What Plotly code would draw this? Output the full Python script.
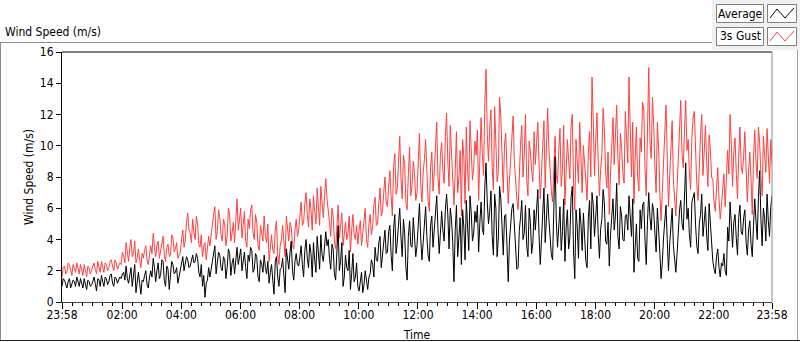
import plotly.graph_objects as go

# ---------------- data (samples on every 5 minutes from 23:58 to 23:58) ----------------
gust_3s = [
    1.6, 2.3, 1.9, 2.4, 1.7, 2.2, 2.5, 1.8, 2.1, 2.4, 1.6, 2.2,
    2.0, 2.5, 1.8, 2.3, 2.6, 1.9, 2.4, 2.2, 2.7, 2.0, 2.5, 2.3,
    2.4, 2.9, 3.8, 2.6, 4.0, 3.1, 2.5, 3.4, 2.2, 2.8, 3.6, 2.4,
    3.6, 4.4, 2.9, 3.9, 3.3, 4.2, 2.6, 3.7, 3.0, 4.1, 3.4, 2.8,
    3.2, 4.6, 3.9, 5.7, 4.4, 5.3, 4.0, 5.0, 3.5, 2.9, 3.8, 3.3,
    3.6, 4.9, 6.1, 4.5, 5.4, 3.9, 5.0, 4.2, 5.6, 4.4, 3.8, 6.6,
    5.2, 4.1, 5.8, 3.5, 4.7, 6.2, 4.0, 5.1, 3.3, 4.5, 5.5, 3.8,
    2.6, 4.3, 3.1, 5.2, 2.4, 4.0, 3.5, 5.5, 3.9, 4.8, 3.4, 5.3,
    4.6, 6.4, 5.1, 7.0, 4.8, 5.9, 6.8, 5.0, 6.1, 7.4, 5.4, 7.9,
    6.0, 4.2, 5.5, 3.4, 6.2, 4.8, 3.6, 5.1, 4.4, 3.2, 5.6, 4.0,
    3.7, 5.2, 4.3, 6.0, 3.5, 5.6, 4.8, 6.7, 5.0, 7.3, 5.8, 8.0,
    6.1, 8.4, 5.5, 9.5, 7.2, 10.6, 6.6, 8.8, 5.9, 9.9, 7.5, 8.2,
    7.0, 10.8, 6.4, 9.1, 7.8, 5.8, 9.6, 8.3, 11.5, 6.9, 10.2, 7.6,
    12.1, 7.4, 9.8, 6.2, 10.9, 8.0, 5.5, 9.3, 11.2, 7.1, 10.0, 8.6,
    9.4, 6.5, 11.8, 8.1, 14.9, 9.0, 12.3, 7.2, 10.5, 8.4, 11.9, 7.0,
    10.8, 6.3, 9.2, 11.9, 7.5, 5.9, 10.1, 8.0, 12.0, 6.8, 9.6, 7.7,
    8.8, 11.5, 6.6, 9.9, 7.3, 12.4, 8.2, 6.4, 10.6, 7.6, 11.1, 8.5,
    6.2, 10.4, 7.9, 12.0, 5.9, 9.3, 11.5, 7.0, 8.7, 6.5, 10.9, 14.4,
    8.1, 12.1, 6.8, 9.5, 11.0, 7.3, 5.6, 10.3, 8.8, 12.6, 7.5, 9.9,
    7.6, 10.8, 14.4, 8.0, 6.3, 11.2, 7.1, 9.6, 12.3, 6.8, 15.0, 9.2,
    11.4, 7.0, 9.9, 5.2, 8.5, 12.6, 6.1, 10.0, 7.8, 5.5, 9.2, 12.9,
    8.6, 12.9, 10.4, 7.2, 11.8, 9.0, 6.5, 10.7, 8.1, 11.3, 7.4, 9.8,
    7.8, 5.8, 8.6, 5.3, 7.0, 6.1, 9.7, 12.0, 7.4, 10.5, 6.6, 11.2,
    8.2, 10.9, 6.4, 9.6, 5.6, 11.0, 7.9, 10.2, 6.8, 9.4, 11.1, 7.6, 8.8,
]

average = [
    1.0, 1.4, 0.9, 1.5, 1.1, 1.3, 1.6, 1.0, 1.2, 1.5, 0.8, 1.3,
    1.1, 1.6, 0.7, 1.4, 1.7, 1.0, 1.5, 1.3, 1.8, 1.0, 1.5, 1.4,
    1.5, 1.9, 2.3, 1.2, 2.2, 1.6, 0.6, 1.9, 0.5, 1.3, 2.0, 0.9,
    2.0, 2.8, 1.3, 2.5, 1.7, 2.6, 1.0, 2.1, 1.5, 2.4, 1.9, 1.2,
    2.1, 2.9, 2.5, 2.7, 2.3, 3.0, 2.6, 2.8, 1.6, 1.0, 0.3, 1.4,
    1.6, 2.6, 3.6, 2.4, 3.0, 2.0, 2.7, 2.2, 3.1, 2.5, 1.8, 3.5,
    2.8, 2.0, 3.2, 1.5, 2.6, 3.3, 2.1, 2.9, 1.3, 2.4, 3.0, 1.8,
    1.2, 2.4, 0.5, 2.9, 1.0, 2.2, 1.7, 3.4, 2.1, 3.9, 1.4, 3.1,
    2.3, 3.6, 1.6, 4.0, 2.2, 3.1, 3.8, 1.9, 3.3, 4.3, 2.6, 4.5,
    4.0, 2.1, 3.4, 1.4, 4.9, 2.6, 1.0, 3.0, 2.0, 0.8, 3.1, 1.6,
    1.0, 1.4, 0.6, 2.0, 0.8, 1.8, 2.4, 3.5, 2.6, 4.2, 3.0, 4.6,
    3.2, 4.9, 2.0, 5.6, 3.8, 6.0, 2.9, 4.4, 1.4, 5.2, 3.5, 4.1,
    3.6, 6.3, 2.7, 5.0, 4.2, 2.6, 5.5, 4.6, 6.8, 3.1, 5.8, 3.9,
    6.9, 3.4, 5.3, 1.3, 6.2, 4.0, 2.4, 4.8, 6.5, 3.3, 5.7, 4.4,
    5.1, 3.2, 6.4, 4.3, 8.9, 5.0, 7.1, 3.0, 6.0, 4.1, 6.6, 3.0,
    5.6, 1.3, 4.8, 6.3, 3.5, 2.2, 5.4, 4.0, 6.2, 2.9, 5.1, 3.8,
    4.6, 7.2, 2.4, 5.7, 3.8, 6.9, 4.2, 2.7, 9.3, 3.5, 6.1, 4.5,
    2.6, 5.9, 4.1, 7.4, 1.5, 4.8, 6.0, 3.3, 4.4, 2.2, 6.5, 7.0,
    4.2, 6.8, 2.8, 5.3, 6.3, 3.7, 2.3, 5.9, 4.6, 7.6, 3.4, 5.5,
    3.9, 5.6, 6.8, 4.2, 1.9, 5.0, 2.6, 4.7, 6.4, 2.4, 7.0, 4.6,
    5.8, 3.2, 4.9, 1.5, 4.1, 6.2, 2.0, 5.3, 3.6, 1.9, 4.8, 6.5,
    4.6, 8.9, 6.0, 3.5, 6.8, 4.9, 3.1, 5.6, 4.2, 6.1, 3.3, 5.0,
    2.6, 1.8, 3.4, 1.6, 2.3, 2.0, 4.8, 6.4, 3.5, 5.6, 3.0, 6.2,
    4.3, 5.9, 3.0, 5.2, 2.9, 6.6, 4.0, 8.4, 3.6, 5.4, 6.9, 4.2, 6.8,
]

# samples half-way between the 5-minute samples (at 2.5, 7.5, ... minutes)
gust_3s_mid = [
    2.2, 1.8, 2.5, 2.0, 2.4, 1.9, 2.1, 2.4, 1.7, 2.0, 2.3, 1.8,
    2.3, 2.1, 2.6, 1.9, 2.2, 2.5, 2.0, 2.6, 2.3, 2.7, 2.1, 2.5,
    3.2, 2.5, 3.3, 3.5, 2.9, 3.9, 2.8, 2.7, 3.1, 3.3, 2.7, 3.0,
    3.1, 3.5, 3.6, 2.8, 4.0, 3.0, 3.5, 2.9, 4.3, 3.2, 3.8, 3.0,
    4.0, 3.5, 5.1, 4.6, 3.8, 4.5, 5.5, 3.7, 4.3, 3.6, 2.7, 4.2,
    4.4, 5.6, 4.0, 5.9, 4.3, 5.3, 3.6, 6.0, 3.9, 5.1, 5.4, 4.6,
    6.0, 4.9, 3.9, 5.3, 5.9, 4.4, 5.6, 3.6, 4.9, 3.9, 4.2, 5.0,
    3.7, 3.3, 4.6, 3.0, 3.6, 4.9, 2.9, 4.4, 5.1, 3.7, 4.6, 4.2,
    5.5, 4.9, 6.3, 5.6, 6.6, 4.6, 5.8, 7.3, 4.9, 6.0, 6.8, 6.6,
    5.1, 6.0, 3.9, 5.2, 4.1, 5.7, 4.3, 4.0, 5.5, 4.6, 4.3, 4.9,
    4.6, 3.6, 5.4, 4.0, 5.0, 4.3, 6.2, 4.9, 6.3, 5.5, 7.0, 6.4,
    7.4, 6.8, 8.6, 6.9, 8.9, 7.9, 9.4, 6.3, 8.2, 6.8, 9.0, 6.5,
    8.9, 7.6, 8.3, 10.4, 6.5, 8.6, 7.1, 10.3, 8.0, 9.4, 8.4, 10.6,
    9.0, 11.3, 7.7, 8.4, 7.0, 9.7, 10.4, 6.3, 8.4, 11.6, 7.8, 10.3,
    11.0, 10.2, 9.5, 12.7, 10.8, 11.1, 8.6, 12.5, 7.7, 13.1, 9.2, 10.1,
    8.5, 7.8, 10.6, 9.0, 6.6, 8.6, 11.3, 9.4, 7.9, 10.3, 8.4, 10.9,
    10.2, 8.9, 8.3, 11.6, 9.6, 9.8, 7.1, 9.0, 8.1, 9.7, 7.4, 11.3,
    8.4, 9.1, 11.3, 7.6, 10.4, 7.6, 8.9, 10.0, 7.3, 9.5, 8.0, 11.6,
    10.4, 9.0, 8.5, 12.4, 8.4, 9.6, 8.2, 11.8, 10.7, 9.2, 10.8, 8.3,
    12.2, 8.9, 10.6, 11.5, 9.2, 8.0, 10.5, 12.8, 8.5, 11.0, 10.3, 13.1,
    8.6, 11.5, 7.1, 7.0, 10.8, 8.7, 8.0, 11.6, 6.3, 7.4, 10.9, 9.5,
    11.0, 9.7, 8.3, 10.5, 12.2, 7.5, 9.2, 12.0, 9.6, 8.9, 10.7, 8.0,
    6.4, 7.3, 6.6, 6.2, 8.2, 7.9, 8.2, 10.1, 9.6, 8.3, 9.4, 8.7,
    9.4, 8.5, 8.3, 7.8, 9.2, 9.0, 11.2, 8.1, 10.6, 8.3, 9.3, 10.4,
]

average_mid = [
    1.5, 1.1, 1.3, 0.9, 1.4, 1.0, 1.3, 1.5, 0.9, 1.2, 1.4, 1.0,
    1.3, 1.2, 1.5, 1.0, 1.3, 1.6, 1.1, 1.7, 1.2, 1.6, 1.2, 1.6,
    1.8, 1.4, 1.5, 1.9, 1.0, 2.4, 1.3, 1.2, 1.4, 1.7, 1.1, 1.6,
    1.6, 2.2, 2.0, 1.5, 2.7, 1.4, 2.3, 0.8, 2.6, 1.8, 2.2, 1.7,
    2.6, 2.0, 2.9, 2.2, 2.8, 2.5, 3.1, 1.9, 2.4, 1.7, 1.2, 2.2,
    2.1, 3.3, 1.8, 3.2, 2.2, 2.9, 1.5, 3.4, 1.7, 2.8, 2.9, 2.4,
    3.4, 2.6, 2.2, 3.0, 3.5, 1.9, 3.1, 1.6, 2.7, 1.9, 2.2, 2.6,
    1.9, 1.4, 2.6, 1.6, 2.1, 2.8, 0.6, 2.5, 3.2, 2.0, 2.6, 2.4,
    2.9, 2.4, 3.3, 2.8, 3.7, 1.6, 2.7, 4.2, 2.1, 3.0, 3.9, 3.6,
    2.8, 3.7, 1.8, 3.2, 2.0, 3.8, 1.6, 2.2, 3.3, 1.8, 1.3, 2.5,
    0.7, 1.9, 1.1, 1.3, 1.6, 2.7, 1.6, 2.7, 3.8, 2.2, 4.0, 3.1,
    4.5, 3.0, 4.7, 3.1, 5.0, 4.1, 5.3, 2.2, 4.2, 3.6, 5.4, 2.9,
    5.0, 4.1, 3.8, 6.1, 3.0, 4.9, 3.5, 5.8, 4.7, 4.4, 4.6, 5.9,
    5.6, 6.0, 3.8, 4.6, 2.9, 5.4, 5.9, 2.7, 4.2, 6.8, 3.9, 5.8,
    6.2, 5.1, 4.7, 7.3, 6.4, 5.8, 4.2, 6.9, 2.9, 7.4, 4.8, 5.5,
    3.6, 3.9, 6.0, 4.8, 2.1, 4.6, 6.5, 4.4, 3.6, 6.0, 3.1, 5.9,
    6.0, 4.3, 4.0, 7.3, 5.2, 5.3, 3.0, 5.8, 5.2, 4.8, 3.3, 6.6,
    4.8, 3.4, 6.7, 3.2, 5.9, 2.8, 5.0, 5.7, 2.6, 5.4, 3.4, 6.2,
    5.8, 4.3, 4.7, 7.2, 3.9, 5.1, 4.3, 6.6, 5.5, 4.2, 6.1, 4.0,
    5.5, 4.6, 5.2, 6.6, 3.5, 2.8, 5.9, 6.2, 3.9, 5.2, 5.4, 6.3,
    4.4, 6.0, 3.2, 2.5, 5.5, 4.0, 3.7, 6.0, 2.4, 3.1, 5.9, 5.0,
    6.5, 5.3, 4.3, 6.4, 7.0, 3.6, 5.0, 6.9, 5.2, 4.2, 6.3, 3.9,
    2.1, 2.9, 2.2, 2.5, 3.1, 1.7, 3.9, 5.0, 5.1, 4.1, 5.4, 4.5,
    5.4, 3.8, 4.6, 3.7, 4.9, 5.2, 6.7, 5.3, 6.0, 3.9, 5.2, 6.1,
]

x_tick_vals = [0, 122, 242, 362, 482, 602, 722, 842, 962, 1082, 1202, 1322, 1440]
x_tick_text = ["23:58", "02:00", "04:00", "06:00", "08:00", "10:00", "12:00",
               "14:00", "16:00", "18:00", "20:00", "22:00", "23:58"]
y_tick_vals = [0, 2, 4, 6, 8, 10, 12, 14, 16]

series_names = ["Average", "3s Gust"]
series_colors = ["#000000", "#ff3f3f"]


def interleave(main, mid):
    out = []
    for a, b in zip(main[:-1], mid):
        out += [a, b]
    out.append(main[-1])
    return out


minutes = [i * 2.5 for i in range(2 * len(gust_3s) - 1)]
gust_series = interleave(gust_3s, gust_3s_mid)
avg_series = interleave(average, average_mid)

# ---------------- layout geometry (pixels) ----------------
W, H = 800, 342
L, R, T, B = 62, 772, 52, 302
FONT = "DejaVu Sans Condensed, Liberation Sans, sans-serif"


def px(xp):
    return (xp - L) / (R - L)


def py(yp):
    return (B - yp) / (B - T)


fig = go.Figure()
fig.add_trace(go.Scatter(x=minutes, y=gust_series, mode="lines", name=series_names[1],
                         line=dict(color=series_colors[1], width=1), showlegend=False))
fig.add_trace(go.Scatter(x=minutes, y=avg_series, mode="lines", name=series_names[0],
                         line=dict(color=series_colors[0], width=1), showlegend=False))

shapes = []
# outer frame
shapes.append(dict(type="line", xref="paper", yref="paper", x0=px(0), x1=px(712), y0=py(42.5), y1=py(42.5),
                   line=dict(color="#8c8c8c", width=1)))
shapes.append(dict(type="line", xref="paper", yref="paper", x0=px(0.5), x1=px(0.5), y0=py(42), y1=py(340),
                   line=dict(color="#8c8c8c", width=1)))
shapes.append(dict(type="line", xref="paper", yref="paper", x0=px(0), x1=px(800), y0=py(340.5), y1=py(340.5),
                   line=dict(color="#202020", width=1)))
shapes.append(dict(type="line", xref="paper", yref="paper", x0=px(797.5), x1=px(797.5), y0=py(50), y1=py(340),
                   line=dict(color="#a0a0a0", width=1)))
# legend panel
shapes.append(dict(type="rect", xref="paper", yref="paper", x0=px(712), x1=px(800), y0=py(0), y1=py(50),
                   fillcolor="#f0f0f0", line=dict(width=0), layer="below"))
# plot top and right border
shapes.append(dict(type="line", xref="paper", yref="paper", x0=0, x1=1, y0=1, y1=1,
                   line=dict(color="#000000", width=1)))
shapes.append(dict(type="line", xref="paper", yref="paper", x0=1, x1=1, y0=0, y1=1,
                   line=dict(color="#8c8c8c", width=1)))

annotations = [
    dict(text="Wind Speed (m/s)", xref="paper", yref="paper", x=px(3), y=py(32),
         xanchor="left", yanchor="middle", showarrow=False, font=dict(family=FONT, size=12, color="#000")),
]

legend_rows = [(4, 22), (27, 45)]
for (y0, y1), name, col in zip(legend_rows, series_names, series_colors):
    shapes.append(dict(type="rect", xref="paper", yref="paper", x0=px(716.5), x1=px(763.5),
                       y0=py(y0 + 0.5), y1=py(y1 + 0.5), fillcolor="#ffffff",
                       line=dict(color="#808080", width=1)))
    shapes.append(dict(type="rect", xref="paper", yref="paper", x0=px(767.5), x1=px(796.5),
                       y0=py(y0 + 0.5), y1=py(y1 + 0.5), fillcolor="#ffffff",
                       line=dict(color="#808080", width=1)))
    pts = [(770, y1 - 4), (777, y0 + 5), (785, y1 - 4), (794, y0 + 4)]
    path = "M " + " L ".join(f"{px(a)},{py(b)}" for a, b in pts)
    shapes.append(dict(type="path", xref="paper", yref="paper", path=path,
                       line=dict(color=col, width=1)))
    annotations.append(dict(text=name, xref="paper", yref="paper", x=px(740), y=py((y0 + y1) / 2 + 0.5),
                            xanchor="center", yanchor="middle", showarrow=False,
                            font=dict(family=FONT, size=12, color="#000")))

fig.update_layout(
    width=W, height=H,
    margin=dict(l=L, r=W - R, t=T, b=H - B, pad=0, autoexpand=False),
    paper_bgcolor="#ffffff", plot_bgcolor="#ffffff",
    font=dict(family=FONT, size=12, color="#000"),
    shapes=shapes, annotations=annotations,
    showlegend=False,
)
fig.update_xaxes(
    range=[0, 1440], tickmode="array", tickvals=x_tick_vals, ticktext=x_tick_text,
    ticks="outside", ticklen=6, tickcolor="#000", tickwidth=1, ticklabelstandoff=-4,
    showline=True, linecolor="#404040", linewidth=1, showgrid=False, zeroline=False,
    automargin=False,
    tickfont=dict(family=FONT, size=12, color="#000"),
    minor=dict(tick0=2, dtick=20, ticks="outside", ticklen=3, tickcolor="#000", showgrid=False),
    title=dict(text="Time", font=dict(family=FONT, size=12, color="#000"), standoff=9),
)
fig.update_yaxes(
    range=[0, 16], tickmode="array", tickvals=y_tick_vals,
    ticks="outside", ticklen=5, tickcolor="#000", tickwidth=1,
    showline=True, linecolor="#000", linewidth=1, showgrid=False, zeroline=False,
    automargin=False,
    tickfont=dict(family=FONT, size=12, color="#000"),
    title=dict(text="Wind Speed (m/s)", font=dict(family=FONT, size=12, color="#000"), standoff=3),
)

fig.write_html("out.html", config={"displayModeBar": False},
               post_script="document.body.style.margin='0';document.body.style.overflow='hidden';")
